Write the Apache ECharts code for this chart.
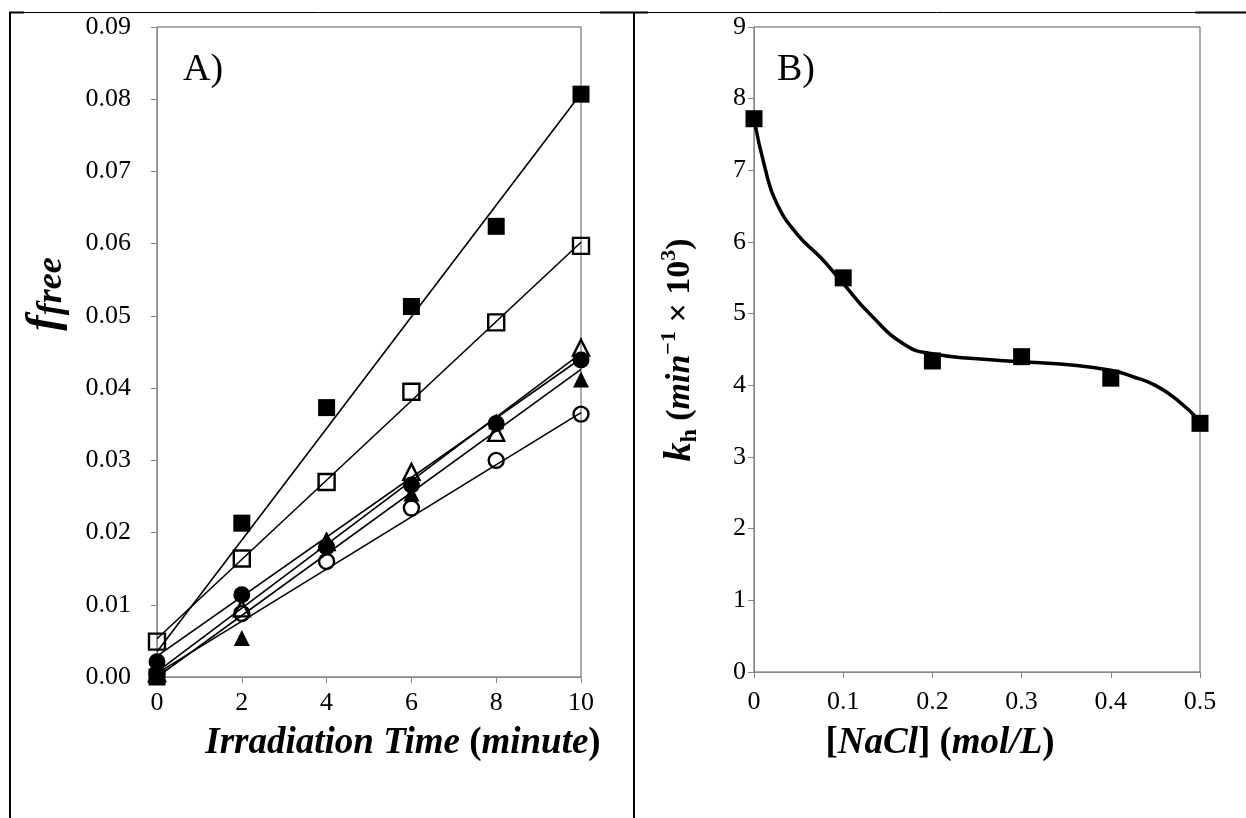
<!DOCTYPE html>
<html>
<head>
<meta charset="utf-8">
<script src="https://cdn.jsdelivr.net/npm/echarts@6/dist/echarts.min.js"></script>
<style>
  html, body { margin: 0; padding: 0; background: #fff; }
  #chart { width: 1246px; height: 818px; }
</style>
</head>
<body>
<div id="chart"></div>
<script>
// ---- Panel A: free fraction vs irradiation time ----
const timeMin = [0, 2, 4, 6, 8, 10];
const fFilledSquare   = [0.0000, 0.0213, 0.0373, 0.0513, 0.0624, 0.0807];
const fOpenSquare     = [0.0049, 0.0164, 0.0270, 0.0395, 0.0491, 0.0597];
const fOpenTriangle   = [0.0005, 0.0095, 0.0187, 0.0284, 0.0338, 0.0456];
const fFilledCircle   = [0.0021, 0.0114, 0.0180, 0.0266, 0.0351, 0.0439];
const fFilledTriangle = [0.0003, 0.0054, 0.0190, 0.0254, 0.0354, 0.0412];
const fOpenCircle     = [0.0005, 0.0088, 0.0160, 0.0234, 0.0300, 0.0364];
// linear trend lines: value at t = 0 and at t = 10
const trendTime = [0, 10];
const trendFilledSquare   = [0.0035, 0.0808];
const trendOpenSquare     = [0.0053, 0.0602];
const trendOpenTriangle   = [0.0007, 0.0448];
const trendFilledCircle   = [0.0029, 0.0441];
const trendFilledTriangle = [0.0000, 0.0426];
const trendOpenCircle     = [0.0005, 0.0366];
const ticksA_x = [0, 2, 4, 6, 8, 10];
const ticksA_y = [0, 0.01, 0.02, 0.03, 0.04, 0.05, 0.06, 0.07, 0.08, 0.09];

// ---- Panel B: rate constant vs NaCl concentration ----
const nacl = [0, 0.1, 0.2, 0.3, 0.4, 0.5];
const kh   = [7.72, 5.50, 4.34, 4.40, 4.10, 3.47];
// fitted curve, sampled along its length
const fitNacl = [0, 0.012, 0.025, 0.049, 0.075, 0.098, 0.131, 0.170, 0.200, 0.250, 0.300, 0.350, 0.400, 0.425, 0.450, 0.475, 0.500];
const fitKh   = [7.72, 7.05, 6.55, 6.10, 5.78, 5.45, 4.98, 4.56, 4.44, 4.37, 4.33, 4.29, 4.21, 4.12, 4.00, 3.79, 3.50];
const ticksB_x = [0, 0.1, 0.2, 0.3, 0.4, 0.5];
const ticksB_y = [0, 1, 2, 3, 4, 5, 6, 7, 8, 9];

const SERIF = '"Liberation Serif", "Times New Roman", serif';
const AXIS_GRAY = '#868686';
const LABEL_SIZE = 26;

const zip = (xs, ys) => xs.map((x, i) => [x, ys[i]]);

function valueAxis(gridIndex, ticks, fmt, margin) {
  return {
    type: 'value',
    gridIndex,
    min: ticks[0],
    max: ticks[ticks.length - 1],
    interval: ticks[1] - ticks[0],
    splitLine: { show: false },
    axisLine: { show: true, lineStyle: { color: AXIS_GRAY, width: 1 } },
    axisTick: { show: true, inside: false, length: 6, lineStyle: { color: AXIS_GRAY } },
    axisLabel: { color: '#000', fontFamily: SERIF, fontSize: LABEL_SIZE, margin, formatter: fmt }
  };
}

function markerSeries(name, data, symbol, filled, size) {
  return {
    name, type: 'scatter', xAxisIndex: 0, yAxisIndex: 0,
    data, symbol, symbolSize: size, z: 3,
    itemStyle: filled
      ? { color: '#000', opacity: 1 }
      : { color: 'rgba(255,255,255,0)', borderColor: '#000', borderWidth: 2.4, opacity: 1 }
  };
}

function trendSeries(data) {
  return {
    type: 'line', xAxisIndex: 0, yAxisIndex: 0, data,
    showSymbol: false, silent: true, z: 4,
    lineStyle: { color: '#000', width: 1.6 }
  };
}

const chart = echarts.init(document.getElementById('chart'), null, { renderer: 'canvas' });

const option = {
  backgroundColor: '#fff',
  animation: false,
  grid: [
    { left: 157, top: 27, width: 424, height: 650, show: true, borderColor: '#595959', borderWidth: 1, backgroundColor: 'transparent' },
    { left: 754, top: 27, width: 446, height: 645, show: true, borderColor: '#595959', borderWidth: 1, backgroundColor: 'transparent' }
  ],
  xAxis: [
    valueAxis(0, ticksA_x, v => String(v), 13),
    valueAxis(1, ticksB_x, v => (v === 0 ? '0' : v.toFixed(1)), 17)
  ],
  yAxis: [
    valueAxis(0, ticksA_y, v => v.toFixed(2), 26),
    valueAxis(1, ticksB_y, v => String(v), 8)
  ],
  series: [
    trendSeries(zip(trendTime, trendFilledSquare)),
    trendSeries(zip(trendTime, trendOpenSquare)),
    trendSeries(zip(trendTime, trendOpenTriangle)),
    trendSeries(zip(trendTime, trendFilledCircle)),
    trendSeries(zip(trendTime, trendFilledTriangle)),
    trendSeries(zip(trendTime, trendOpenCircle)),
    markerSeries('filled square', zip(timeMin, fFilledSquare), 'rect', true, 17),
    markerSeries('open square', zip(timeMin, fOpenSquare), 'rect', false, 16),
    markerSeries('open triangle', zip(timeMin, fOpenTriangle), 'triangle', false, 16),
    markerSeries('filled circle', zip(timeMin, fFilledCircle), 'circle', true, 17),
    markerSeries('filled triangle', zip(timeMin, fFilledTriangle), 'triangle', true, 16),
    markerSeries('open circle', zip(timeMin, fOpenCircle), 'circle', false, 15),
    {
      name: 'fit', type: 'line', xAxisIndex: 1, yAxisIndex: 1,
      data: zip(fitNacl, fitKh), smooth: 0.5, showSymbol: false, z: 3,
      lineStyle: { color: '#000', width: 3.5 }
    },
    {
      name: 'kh', type: 'scatter', xAxisIndex: 1, yAxisIndex: 1,
      data: zip(nacl, kh), symbol: 'rect', symbolSize: 17, z: 4,
      itemStyle: { color: '#000', opacity: 1 }
    }
  ],
  graphic: [
    // table frame around the two panels
    { type: 'line', shape: { x1: 9, y1: 12.5, x2: 1246, y2: 12.5 }, style: { stroke: '#000', lineWidth: 1 } },
    { type: 'line', shape: { x1: 9, y1: 12.5, x2: 24, y2: 12.5 }, style: { stroke: '#000', lineWidth: 2 } },
    { type: 'line', shape: { x1: 600, y1: 12.5, x2: 648, y2: 12.5 }, style: { stroke: '#000', lineWidth: 2 } },
    { type: 'line', shape: { x1: 1195, y1: 12.5, x2: 1246, y2: 12.5 }, style: { stroke: '#000', lineWidth: 2 } },
    { type: 'line', shape: { x1: 10, y1: 12, x2: 10, y2: 818 }, style: { stroke: '#000', lineWidth: 2 } },
    { type: 'line', shape: { x1: 634, y1: 12, x2: 634, y2: 818 }, style: { stroke: '#000', lineWidth: 2 } },
    // panel letters
    { type: 'text', x: 183, y: 70, style: { text: 'A)', font: '38px ' + SERIF, fill: '#000', verticalAlign: 'middle' } },
    { type: 'text', x: 777, y: 70, style: { text: 'B)', font: '38px ' + SERIF, fill: '#000', verticalAlign: 'middle' } },
    // axis titles
    {
      type: 'text', x: 45, y: 294, rotation: Math.PI / 2,
      style: {
        text: '{f|f}{s|free}', align: 'center', verticalAlign: 'middle',
        rich: {
          f: { fontFamily: SERIF, fontSize: 46, fontWeight: 'bold', fontStyle: 'italic', fill: '#000', lineHeight: 50, verticalAlign: 'middle' },
          s: { fontFamily: SERIF, fontSize: 36, fontWeight: 'bold', fontStyle: 'italic', fill: '#000', lineHeight: 36, verticalAlign: 'bottom' }
        }
      }
    },
    {
      type: 'text', x: 680, y: 350, rotation: Math.PI / 2,
      style: {
        text: '{k|k}{h|h}{b| (}{i|min}{p|\u22121}{b| \u00d7 10}{p|3}{b|)}',
        align: 'center', verticalAlign: 'middle',
        rich: {
          k: { fontFamily: SERIF, fontSize: 38, fontWeight: 'bold', fontStyle: 'italic', fill: '#000', lineHeight: 44, verticalAlign: 'middle' },
          h: { fontFamily: SERIF, fontSize: 24, fontWeight: 'bold', fill: '#000', lineHeight: 26, verticalAlign: 'bottom' },
          b: { fontFamily: SERIF, fontSize: 34, fontWeight: 'bold', fill: '#000', lineHeight: 44, verticalAlign: 'middle' },
          i: { fontFamily: SERIF, fontSize: 34, fontWeight: 'bold', fontStyle: 'italic', fill: '#000', lineHeight: 44, verticalAlign: 'middle' },
          p: { fontFamily: SERIF, fontSize: 22, fontWeight: 'bold', fill: '#000', lineHeight: 24, verticalAlign: 'top' }
        }
      }
    },
    {
      type: 'text', x: 403, y: 743,
      style: {
        text: '{i|Irradiation Time }{b|(}{i|minute}{b|)}', align: 'center', verticalAlign: 'middle',
        rich: {
          i: { fontFamily: SERIF, fontSize: 37, fontWeight: 'bold', fontStyle: 'italic', fill: '#000' },
          b: { fontFamily: SERIF, fontSize: 37, fontWeight: 'bold', fill: '#000' }
        }
      }
    },
    {
      type: 'text', x: 940, y: 743,
      style: {
        text: '{b|[}{i|NaCl}{b|] (}{i|mol/L}{b|)}', align: 'center', verticalAlign: 'middle',
        rich: {
          i: { fontFamily: SERIF, fontSize: 37, fontWeight: 'bold', fontStyle: 'italic', fill: '#000' },
          b: { fontFamily: SERIF, fontSize: 37, fontWeight: 'bold', fill: '#000' }
        }
      }
    }
  ]
};

chart.setOption(option);
</script>
</body>
</html>
